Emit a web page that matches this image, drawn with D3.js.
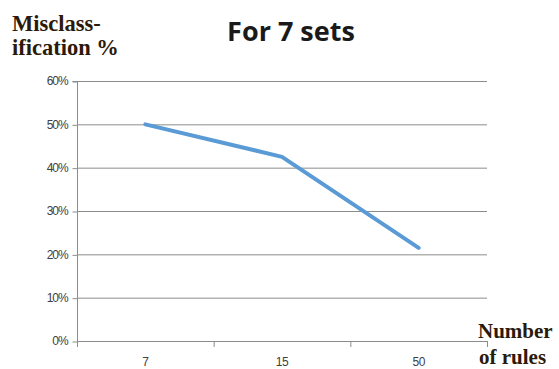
<!DOCTYPE html>
<html><head><meta charset="utf-8">
<script src="https://cdn.jsdelivr.net/npm/d3@7"></script>
<style>body{margin:0;background:#fff;}svg{display:block;}</style>
</head><body>
<svg id="c" width="559" height="369"></svg>
<script>
const categories = ["7", "15", "50"];
const values = [0.50, 0.425, 0.215];
const yTicks = [0, 0.1, 0.2, 0.3, 0.4, 0.5, 0.6];
const title = "For 7 sets";
const yTitle = ["Misclass-", "ification %"];
const xTitle = ["Number", "of rules"];

(function () {
const svg = d3.select("#c");
const mLeft = 77, mRight = 487, mTop = 81, mBottom = 341;
const x = d3.scaleBand().domain(categories).range([mLeft, mRight]);
const y = d3.scaleLinear().domain([0, 0.6]).range([mBottom, mTop]);

// gridlines
svg.append("g").selectAll("line").data(yTicks.filter(d => d > 0)).join("line")
  .attr("x1", mLeft).attr("x2", mRight)
  .attr("y1", d => y(d) + 0.5).attr("y2", d => y(d) + 0.5)
  .attr("stroke", "#8c8c8c").attr("stroke-width", 1);

// y axis
const ya = svg.append("g").attr("transform", `translate(${mLeft + 0.5},0)`)
  .call(d3.axisLeft(y).tickValues(yTicks).tickFormat(d3.format(".0%")).tickSize(5).tickPadding(5));
ya.select(".domain").attr("stroke", "#8c8c8c").attr("d", `M-5,${y(0.6)+0.5}H0V${mBottom+0.5}`);
ya.selectAll(".tick line").attr("stroke", "#8c8c8c").attr("transform", "translate(0,0.5)");
ya.selectAll(".tick text").attr("font-family", "Liberation Sans, Arial, sans-serif")
  .attr("font-size", 12).attr("fill", "#404040").attr("letter-spacing", "-1.1");

// x axis
const xa = svg.append("g").attr("transform", `translate(0,${mBottom + 0.5})`)
  .call(d3.axisBottom(x).tickSize(0).tickPadding(16));
xa.select(".domain").remove();
xa.selectAll(".tick text").attr("font-family", "Liberation Sans, Arial, sans-serif")
  .attr("font-size", 12).attr("fill", "#404040").attr("letter-spacing", "-0.5");
const bounds = categories.map(c => x(c)).concat([mRight]);
svg.append("line").attr("x1", mLeft).attr("x2", mRight)
  .attr("y1", mBottom + 0.5).attr("y2", mBottom + 0.5).attr("stroke", "#8c8c8c");
svg.append("g").selectAll("line").data(bounds).join("line")
  .attr("x1", d => d + 0.5).attr("x2", d => d + 0.5)
  .attr("y1", mBottom).attr("y2", mBottom + 6).attr("stroke", "#8c8c8c");

// line
const line = d3.line().x((d, i) => x(categories[i]) + x.bandwidth() / 2).y(d => y(d));
svg.append("path").datum(values).attr("d", line)
  .attr("fill", "none").attr("stroke", "#5b9bd5").attr("stroke-width", 4)
  .attr("stroke-linejoin", "round").attr("stroke-linecap", "round");

// titles
svg.append("text").attr("x", 291).attr("y", 41).attr("text-anchor", "middle")
  .attr("font-family", "Open Sans, Liberation Sans, sans-serif").attr("font-weight", "bold")
  .attr("font-size", 27).attr("fill", "#1a1a1a").text(title);
svg.append("g").selectAll("text").data(yTitle).join("text")
  .attr("x", 12).attr("y", (d, i) => 31 + i * 24)
  .attr("font-family", "Liberation Serif, Times New Roman, serif").attr("font-weight", "bold")
  .attr("font-size", 22.5).attr("fill", "#2b1a0a").text(d => d);
svg.append("g").selectAll("text").data(xTitle).join("text")
  .attr("x", (d, i) => i === 0 ? 478 : 479).attr("y", (d, i) => 338 + i * 26)
  .attr("font-family", "Liberation Serif, Times New Roman, serif").attr("font-weight", "bold")
  .attr("font-size", 21).attr("fill", "#2b1a0a").text(d => d);
})();
</script>
</body></html>
